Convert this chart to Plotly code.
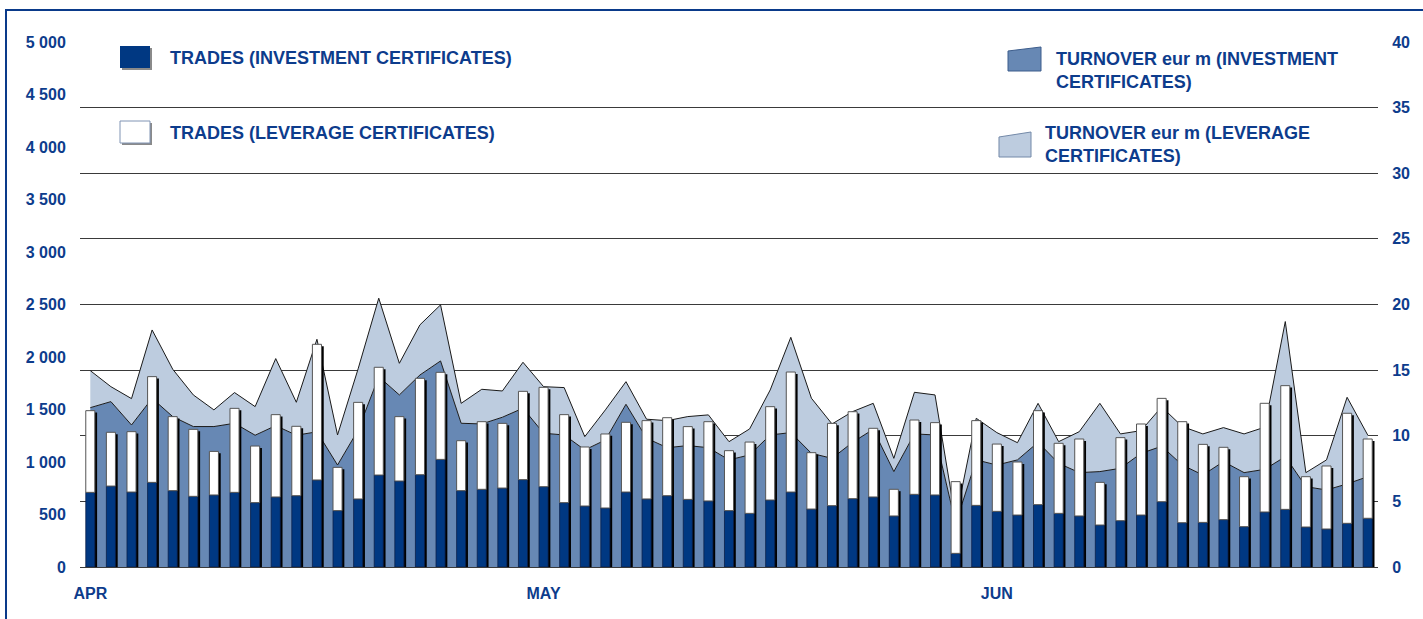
import plotly.graph_objects as go

# ---------------- data ----------------
days = list(range(63))                      # trading days, April to June
month_labels = ["APR", "MAY", "JUN"]
month_positions = [0, 22, 44]

trades_investment = [711, 771, 714, 806, 727, 673, 686, 711, 613, 667,
                     679, 829, 537, 648, 876, 819, 879, 1025, 727, 740,
                     752, 832, 765, 613, 581, 562, 714, 648, 679, 644,
                     629, 537, 511, 638, 714, 552, 584, 651, 667, 486,
                     692, 686, 130, 587, 530, 495, 594, 511, 486, 400,
                     441, 495, 622, 422, 425, 451, 384, 524, 549, 381,
                     362, 416, 464]
trades_leverage = [778, 512, 575, 1007, 705, 638, 415, 800, 539, 784,
                   661, 1292, 412, 920, 1026, 613, 918, 829, 476, 644,
                   616, 841, 946, 838, 562, 705, 664, 746, 743, 693,
                   755, 571, 679, 889, 1143, 537, 784, 828, 654, 254,
                   708, 689, 683, 807, 641, 505, 895, 667, 733, 406,
                   791, 867, 984, 962, 743, 689, 476, 1035, 1178, 479,
                   600, 1048, 755]
turnover_investment = [12.14, 12.6, 10.82, 12.85, 11.46, 10.7, 10.7, 10.95, 10.04, 10.77,
                       10.04, 10.3, 7.77, 10.44, 14.5, 13.11, 14.63, 15.7, 10.95, 10.9,
                       11.41, 12.1, 10.19, 10.06, 8.92, 9.68, 12.4, 9.81, 9.09, 9.25,
                       9.09, 8.16, 8.54, 10.06, 10.24, 8.66, 8.28, 9.5, 10.49, 7.27,
                       10.14, 10.06, 3.3, 8.16, 7.77, 8.16, 9.5, 7.9, 7.19, 7.27,
                       7.52, 8.66, 9.2, 7.77, 7.01, 8.03, 7.19, 7.44, 8.41, 6.12,
                       5.87, 6.33, 6.88]
turnover_leverage = [2.82, 1.14, 2.01, 5.21, 3.61, 2.41, 1.27, 2.34, 2.18, 5.11,
                     2.51, 7.05, 2.29, 4.66, 5.98, 2.41, 3.82, 4.27, 1.52, 2.64,
                     2.0, 3.5, 3.55, 3.61, 1.01, 2.29, 1.72, 1.45, 2.06, 2.21,
                     2.5, 1.39, 1.98, 3.43, 7.26, 4.2, 2.62, 2.34, 1.98, 1.01,
                     3.17, 3.05, 0.3, 3.17, 2.47, 1.31, 2.97, 1.65, 3.12, 5.2,
                     2.62, 1.73, 3.0, 2.93, 3.13, 2.59, 2.95, 3.21, 10.29, 1.07,
                     2.29, 6.6, 3.18]

legend_labels = ["TRADES (INVESTMENT CERTIFICATES)",
                 "TRADES (LEVERAGE CERTIFICATES)",
                 "TURNOVER eur m (INVESTMENT<br>CERTIFICATES)",
                 "TURNOVER eur m (LEVERAGE<br>CERTIFICATES)"]

# ---------------- style ----------------
NAVY = "#003882"
TEXT = "#0D3C8C"
MID = "#6788B4"
LIGHT = "#BDCCDF"
FONT = "Liberation Sans, Arial, sans-serif"

W, H = 1423, 619
L, R, T, B = 80, 45, 42, 52
PW, PH = W - L - R, H - T - B


def px(x):
    return (x - L) / PW


def py(y):
    return (H - B - y) / PH


fig = go.Figure()

# turnover areas (main y axis, right side)
fig.add_trace(go.Scatter(x=days, y=turnover_investment, stackgroup="turn", mode="lines",
                         line=dict(color="#1a1a1a", width=1), fillcolor=MID,
                         yaxis="y", hoverinfo="skip"))
fig.add_trace(go.Scatter(x=days, y=turnover_leverage, stackgroup="turn", mode="lines",
                         line=dict(color="#1a1a1a", width=1), fillcolor=LIGHT,
                         yaxis="y", hoverinfo="skip"))

# trades bars (overlay y2, left side)
bw = 0.44
shadow_top = [a + b - 18 for a, b in zip(trades_investment, trades_leverage)]
fig.add_trace(go.Bar(x=days, y=shadow_top, width=bw, offset=-bw / 2 + 0.11,
                     marker=dict(color="#000000", line=dict(width=0)),
                     yaxis="y2", hoverinfo="skip"))
fig.add_trace(go.Bar(x=days, y=trades_investment, width=bw,
                     marker=dict(color=NAVY, line=dict(color="#0a1f4a", width=0.8)),
                     yaxis="y2"))
fig.add_trace(go.Bar(x=days, y=trades_leverage, base=trades_investment, width=bw,
                     marker=dict(color="#ffffff", line=dict(color="#555555", width=1)),
                     yaxis="y2"))

tickfont = dict(family=FONT, size=16, color=TEXT, weight="bold")

fig.update_layout(
    width=W, height=H,
    margin=dict(l=L, r=R, t=T, b=B),
    paper_bgcolor="white", plot_bgcolor="white",
    showlegend=False, barmode="overlay",
    separators=". ",
    xaxis=dict(range=[-0.5, 62.5], tickvals=month_positions, ticktext=month_labels,
               showgrid=False, zeroline=False, showline=False,
               ticks="outside", ticklen=12, tickcolor="rgba(0,0,0,0)",
               tickfont=tickfont),
    yaxis=dict(side="right", range=[0, 40], dtick=5, showgrid=True,
               gridcolor="#3a3a3a", gridwidth=1, zeroline=True, zerolinecolor="#3a3a3a",
               zerolinewidth=1, showline=False, ticks="outside", ticklen=10,
               tickcolor="rgba(0,0,0,0)", tickfont=tickfont),
    yaxis2=dict(overlaying="y", side="left", range=[0, 5000], dtick=500,
                tickformat=",d", showgrid=False, zeroline=False, showline=False,
                ticks="outside", ticklen=10, tickcolor="rgba(0,0,0,0)",
                tickfont=tickfont),
)

shapes = []
# outer frame
shapes.append(dict(type="rect", xref="paper", yref="paper",
                   x0=px(6), x1=px(W + 20), y0=py(H + 20), y1=py(10),
                   line=dict(color="#0A3A8A", width=2), fillcolor="rgba(0,0,0,0)", layer="above"))
# legend markers
shapes.append(dict(type="rect", xref="paper", yref="paper", x0=px(122), x1=px(152),
                   y0=py(70), y1=py(48), fillcolor="#8a8a8a", line=dict(width=0)))
shapes.append(dict(type="rect", xref="paper", yref="paper", x0=px(120), x1=px(150),
                   y0=py(68), y1=py(46), fillcolor=NAVY, line=dict(width=0)))
shapes.append(dict(type="rect", xref="paper", yref="paper", x0=px(122), x1=px(152),
                   y0=py(145), y1=py(123), fillcolor="#8a8a8a", line=dict(width=0)))
shapes.append(dict(type="rect", xref="paper", yref="paper", x0=px(120), x1=px(150),
                   y0=py(143), y1=py(121), fillcolor="white",
                   line=dict(color="#8094b4", width=1)))


def poly(points):
    p = "M " + " L ".join(f"{px(x):.5f},{py(y):.5f}" for x, y in points) + " Z"
    return p


shapes.append(dict(type="path", xref="paper", yref="paper",
                   path=poly([(1008, 51), (1041, 47), (1041, 71), (1008, 71)]),
                   fillcolor=MID, line=dict(color="#3d5d8c", width=1)))
shapes.append(dict(type="path", xref="paper", yref="paper",
                   path=poly([(999, 137), (1031, 132), (1031, 157), (999, 157)]),
                   fillcolor=LIGHT, line=dict(color="#7389a8", width=1)))
fig.update_layout(shapes=shapes)

annfont = dict(family=FONT, size=18, color=TEXT, weight="bold")
anns = [
    dict(text=legend_labels[0], x=px(168), y=py(58)),
    dict(text=legend_labels[1], x=px(168), y=py(133)),
    dict(text=legend_labels[2], x=px(1054), y=py(70.5)),
    dict(text=legend_labels[3], x=px(1043), y=py(145)),
]
for a in anns:
    a.update(xref="paper", yref="paper", xanchor="left", yanchor="middle",
             align="left", showarrow=False, font=annfont)
fig.update_layout(annotations=anns)

fig.write_html("out.html", config={"displayModeBar": False},
               post_script="document.body.style.margin='0px';document.body.style.overflow='hidden';")
